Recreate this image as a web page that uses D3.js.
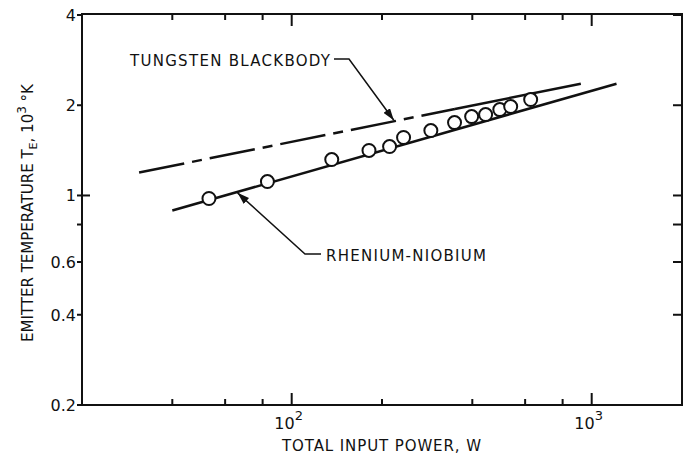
<!DOCTYPE html>
<html><head><meta charset="utf-8">
<script src="https://cdn.jsdelivr.net/npm/d3@7/dist/d3.min.js"></script>
<style>
body{margin:0;background:#fff;}
text{font-family:"DejaVu Sans","Noto Sans",sans-serif;fill:#111;}
</style></head>
<body><svg id="c" width="688" height="462"></svg>
<script>
// data
const powerW = [53, 83, 136, 181, 212, 236, 291, 349, 398, 443, 494, 537, 626];
const tempK3 = [0.977, 1.113, 1.318, 1.413, 1.456, 1.561, 1.647, 1.75, 1.833, 1.862, 1.934, 1.98, 2.089];
const rheniumLine = [[40, 0.891], [1210, 2.36]];
const blackbodyLine = [[31, 1.193], [920, 2.36]];
const blackbodyDashedUntil = 350;
const xTicks = [40, 60, 80, 100, 200, 400, 600, 800, 1000];
const xMajor = [100, 1000];
const yTicks = [0.2, 0.4, 0.6, 0.8, 1, 2, 4];
const yLabels = [0.2, 0.4, 0.6, 1, 2, 4];
const rheniumArrowAt = 66;
const blackbodyArrowAt = 219;

const svg = d3.select("#c");
const L = 82, R = 682, T = 14, B = 405;
const x = d3.scaleLog().domain([20, 2000]).range([L, R]);
const y = d3.scaleLog().domain([0.2, 4]).range([B, T + 1]);

svg.append("defs").append("marker").attr("id", "ah")
  .attr("viewBox", "0 0 12 8").attr("refX", 12).attr("refY", 4)
  .attr("markerWidth", 12).attr("markerHeight", 8).attr("markerUnits", "userSpaceOnUse")
  .attr("orient", "auto")
  .append("path").attr("d", "M0,0 L12,4 L0,8 Z").attr("fill", "#111");

// frame
svg.append("rect").attr("x", L).attr("y", T).attr("width", R - L).attr("height", B - T)
  .attr("fill", "none").attr("stroke", "#111").attr("stroke-width", 2);

// x ticks (bottom and top, inward)
const xt = svg.append("g");
xTicks.forEach(v => {
  const len = xMajor.includes(v) ? 12 : 6;
  xt.append("line").attr("x1", x(v)).attr("x2", x(v)).attr("y1", B).attr("y2", B - len)
    .attr("stroke", "#111").attr("stroke-width", 2);
  xt.append("line").attr("x1", x(v)).attr("x2", x(v)).attr("y1", T).attr("y2", T + len)
    .attr("stroke", "#111").attr("stroke-width", 2);
});
xMajor.forEach(v => {
  const t = svg.append("text").attr("x", x(v) - 3).attr("y", 429).attr("text-anchor", "middle")
    .attr("font-size", 16);
  t.append("tspan").text("10");
  t.append("tspan").attr("dy", -9).attr("font-size", 13).text(Math.round(Math.log10(v)));
});

// y ticks
yTicks.forEach(v => {
  svg.append("line").attr("x1", L - 5).attr("x2", L + (v === 1 ? 8 : 0)).attr("y1", y(v)).attr("y2", y(v))
    .attr("stroke", "#111").attr("stroke-width", 2);
  svg.append("line").attr("x1", R).attr("x2", R - 9).attr("y1", y(v)).attr("y2", y(v))
    .attr("stroke", "#111").attr("stroke-width", 2);
});
yLabels.forEach(v => {
  svg.append("text").attr("x", L - 6).attr("y", y(v) + 6).attr("text-anchor", "end")
    .attr("font-size", 16).text(v);
});

// axis titles
svg.append("text").attr("x", 282).attr("y", 451)
  .attr("font-size", 15).attr("textLength", 199).attr("lengthAdjust", "spacing")
  .text("TOTAL INPUT POWER,  W");
const yt = svg.append("text").attr("transform", "translate(33,213) rotate(-90)")
  .attr("text-anchor", "middle").attr("font-size", 15);
yt.append("tspan").text("EMITTER TEMPERATURE T");
yt.append("tspan").attr("dy", 4).attr("font-size", 11).text("E");
yt.append("tspan").attr("dy", -4).text(", 10");
yt.append("tspan").attr("dy", -7).attr("font-size", 12).text("3");
yt.append("tspan").attr("dy", 7).text("  \u00B0K");

const line = d3.line().x(d => x(d[0])).y(d => y(d[1]));
function interpLog(seg, v) {
  const [a, b] = seg;
  const t = (Math.log(v) - Math.log(a[0])) / (Math.log(b[0]) - Math.log(a[0]));
  return Math.exp(Math.log(a[1]) + t * (Math.log(b[1]) - Math.log(a[1])));
}

// blackbody line: dashed part then solid
const bbMid = [blackbodyDashedUntil, interpLog(blackbodyLine, blackbodyDashedUntil)];
svg.append("path").attr("d", line([blackbodyLine[0], bbMid])).attr("fill", "none")
  .attr("stroke", "#111").attr("stroke-width", 2.5).attr("stroke-dasharray", "46,8,10,8");
svg.append("path").attr("d", line([bbMid, blackbodyLine[1]])).attr("fill", "none")
  .attr("stroke", "#111").attr("stroke-width", 2.5);

// rhenium line
svg.append("path").attr("d", line(rheniumLine)).attr("fill", "none")
  .attr("stroke", "#111").attr("stroke-width", 2.5);

// points
svg.append("g").selectAll("circle").data(powerW).join("circle")
  .attr("cx", d => x(d)).attr("cy", (d, i) => y(tempK3[i])).attr("r", 6.5)
  .attr("fill", "#fff").attr("stroke", "#111").attr("stroke-width", 2);

// annotations
svg.append("text").attr("x", 130).attr("y", 66).attr("font-size", 15)
  .attr("textLength", 200).attr("lengthAdjust", "spacing").text("TUNGSTEN BLACKBODY");
const bx = x(blackbodyArrowAt), by = y(interpLog(blackbodyLine, blackbodyArrowAt));
svg.append("path").attr("d", `M334,59 L349,59 L${bx},${by - 1}`).attr("fill", "none")
  .attr("stroke", "#111").attr("stroke-width", 1.5).attr("marker-end", "url(#ah)");

svg.append("text").attr("x", 326).attr("y", 261).attr("font-size", 15)
  .attr("textLength", 160).attr("lengthAdjust", "spacing").text("RHENIUM-NIOBIUM");
const rx = x(rheniumArrowAt), ry = y(interpLog(rheniumLine, rheniumArrowAt));
svg.append("path").attr("d", `M321,254 L305,254 L${rx},${ry + 1}`).attr("fill", "none")
  .attr("stroke", "#111").attr("stroke-width", 1.5).attr("marker-end", "url(#ah)");
</script></body></html>
